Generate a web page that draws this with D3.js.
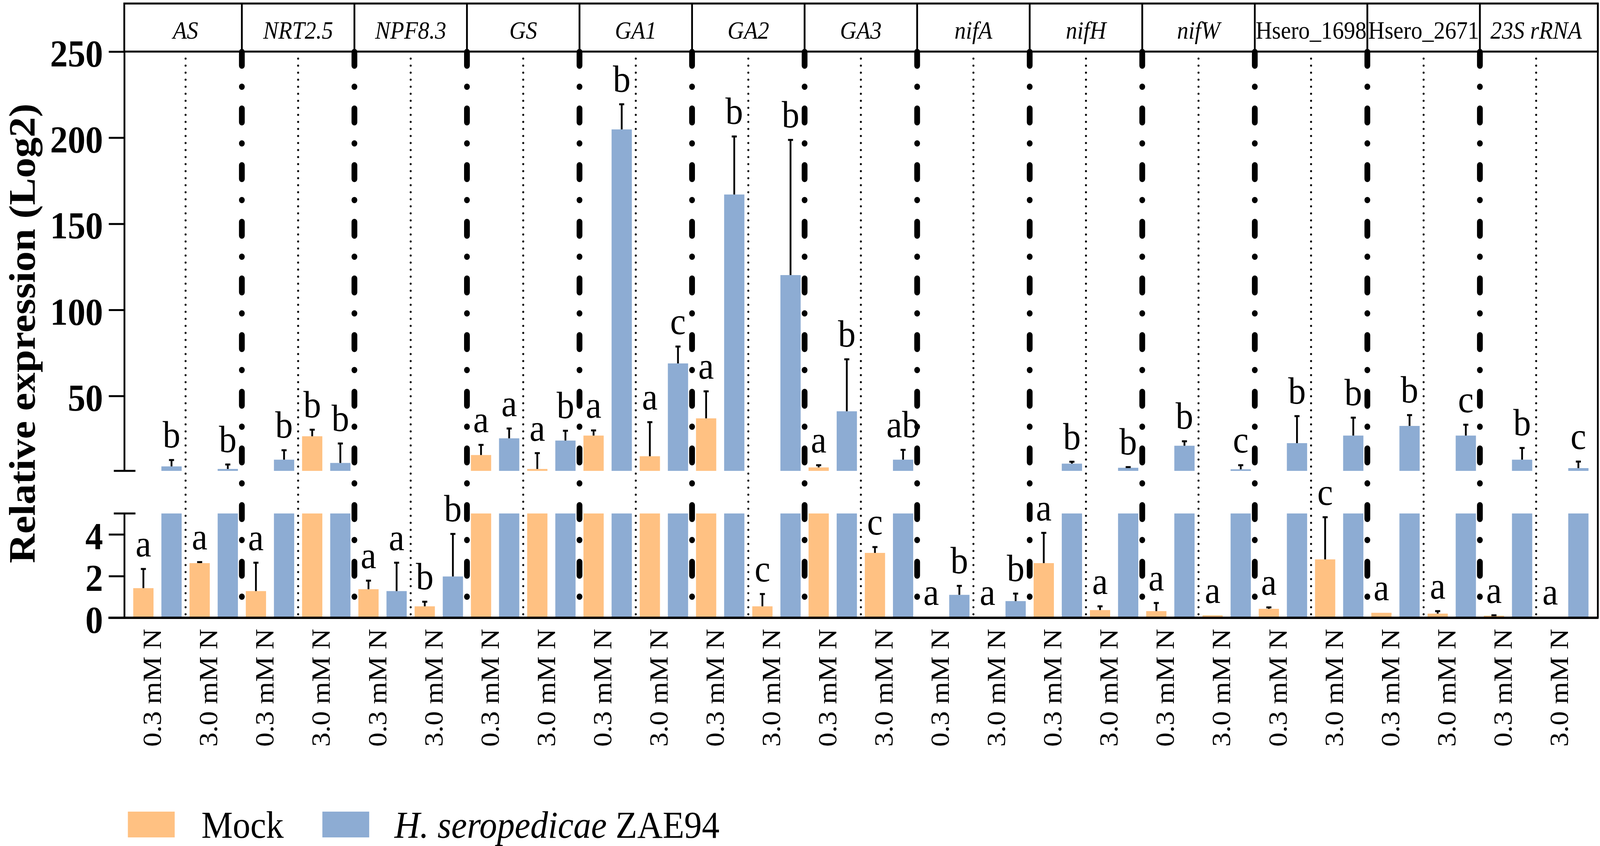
<!DOCTYPE html>
<html>
<head>
<meta charset="utf-8">
<script src="https://cdn.jsdelivr.net/npm/d3@7"></script>
<style>
  html, body { margin: 0; padding: 0; background: #fff; overflow: hidden; }
  svg { display: block; font-family: "Liberation Serif", "Times New Roman", serif; }
</style>
</head>
<body>
<div id="chart"></div>
<script>
// genes, conditions, treatments
const genes = ["AS", "NRT2.5", "NPF8.3", "GS", "GA1", "GA2", "GA3",
  "nifA", "nifH", "nifW", "Hsero_1698", "Hsero_2671", "23S rRNA"];
const conditions = ["0.3 mM N", "3.0 mM N"];
const treatments = ["Mock", "H. seropedicae ZAE94"];

// values per gene: [0.3 mM N, 3.0 mM N]
const mockMean = [1.42, 2.62, 1.28, 26.6, 1.37, 0.55, 15.7, 7.6, 27.0, 15.0, 37.0, 0.55, 8.5, 3.11,
  0.02, 0.02, 2.62, 0.37, 0.32, 0.12, 0.43, 2.80, 0.24, 0.20, 0.10, 0.04];
const mockSD = [0.92, 0.05, 1.36, 3.8, 0.41, 0.22, 5.9, 9.2, 3.0, 19.8, 15.7, 0.59, 1.3, 0.28,
  0, 0, 1.45, 0.18, 0.39, 0, 0.07, 2.02, 0, 0.12, 0.02, 0];
const hsMean = [9.1, 7.6, 13.0, 11.1, 1.28, 1.98, 25.4, 24.1, 204.8, 68.9, 167, 120.2, 41.1, 13.0,
  1.10, 0.80, 10.7, 8.3, 21.1, 7.4, 22.6, 27.0, 32.6, 27.0, 13.0, 8.1];
const hsSD = [3.7, 2.6, 5.5, 11.3, 1.36, 2.04, 5.7, 5.7, 14.6, 9.8, 33.7, 78.5, 30.2, 5.7,
  0.43, 0.36, 1.1, 0.4, 2.6, 2.4, 15.7, 10.4, 6.3, 6.3, 6.8, 3.8];
const mockLetters = ["a", "a", "a", "b", "a", "b", "a", "a", "a", "a", "a", "c", "a", "c",
  "a", "a", "a", "a", "a", "a", "a", "c", "a", "a", "a", "a"];
const hsLetters = ["b", "b", "b", "b", "a", "b", "a", "b", "b", "c", "b", "b", "b", "ab",
  "b", "b", "b", "b", "b", "c", "b", "b", "b", "c", "b", "c"];

const lowTicks = [0, 2, 4];
const upTicks = [50, 100, 150, 200, 250];

const W = 4442, H = 2165;
const colors = { "Mock": "#FFC182", "H. seropedicae ZAE94": "#8DACD3" };

const rows = [];
genes.forEach((g, gi) => conditions.forEach((c, ci) => {
  const i = gi * 2 + ci;
  rows.push({ gene: g, cond: c, treat: treatments[0], mean: mockMean[i], sd: mockSD[i], letter: mockLetters[i] });
  rows.push({ gene: g, cond: c, treat: treatments[1], mean: hsMean[i], sd: hsSD[i], letter: hsLetters[i] });
}));
rows.forEach(d => d.key = `${d.gene}|${d.cond}|${d.treat}`);

// scale the drawing to whatever the window is
const svg = d3.select("#chart").append("svg")
  .attr("viewBox", `0 0 ${W} ${H}`)
  .attr("preserveAspectRatio", "none")
  .style("width", "100vw")
  .style("height", "100vh");

const left = 359, right = 4421, axisX = 345, frameR = 4436;
const x = d3.scaleBand().domain(rows.map(d => d.key))
  .range([left, right]).paddingInner(0.28).paddingOuter(0.14);
const gx = d3.scaleBand().domain(genes).range([left, right]);
const px = d3.scaleBand().domain(genes.flatMap(g => conditions.map(c => `${g}|${c}`)))
  .range([left, right]);

const yLow = d3.scaleLinear().domain([0, 5]).range([1581, 1314]);
const yUp = d3.scaleLinear().domain([6.5, 250]).range([1205, 132]);

// header boxes
const head = svg.append("g");
head.append("rect")
  .attr("x", axisX).attr("y", 9)
  .attr("width", frameR - axisX).attr("height", 123)
  .attr("fill", "none").attr("stroke", "black").attr("stroke-width", 5);
head.selectAll("line.div")
  .data(genes.slice(1))
  .join("line")
    .attr("x1", d => gx(d)).attr("x2", d => gx(d))
    .attr("y1", 9).attr("y2", 132)
    .attr("stroke", "black").attr("stroke-width", 5);
head.selectAll("text")
  .data(genes)
  .join("text")
    .attr("x", d => gx(d) + gx.bandwidth() / 2)
    .attr("y", 99)
    .attr("text-anchor", "middle")
    .attr("font-size", 63)
    .attr("font-style", d => d.startsWith("Hsero") ? "normal" : "italic")
    .text(d => d);

// bars, lower segment
const bars = svg.append("g");
bars.selectAll("rect.low")
  .data(rows)
  .join("rect")
    .attr("class", "low")
    .attr("x", d => x(d.key))
    .attr("width", x.bandwidth())
    .attr("y", d => yLow(Math.min(d.mean, 5)))
    .attr("height", d => yLow(0) - yLow(Math.min(d.mean, 5)))
    .attr("fill", d => colors[d.treat]);

// bars, upper segment
bars.selectAll("rect.up")
  .data(rows.filter(d => d.mean > yUp.domain()[0]))
  .join("rect")
    .attr("class", "up")
    .attr("x", d => x(d.key))
    .attr("width", x.bandwidth())
    .attr("y", d => yUp(d.mean))
    .attr("height", d => yUp.range()[0] - yUp(d.mean))
    .attr("fill", d => colors[d.treat]);

const yOf = v => v > 5 ? yUp(v) : yLow(v);

// error bars
const err = svg.append("g").attr("stroke", "black").attr("stroke-width", 5);
const withErr = rows.filter(d => d.sd > 0);
err.selectAll("line.v")
  .data(withErr)
  .join("line")
    .attr("x1", d => x(d.key) + x.bandwidth() / 2)
    .attr("x2", d => x(d.key) + x.bandwidth() / 2)
    .attr("y1", d => yOf(d.mean))
    .attr("y2", d => yOf(d.mean + d.sd));
err.selectAll("line.c")
  .data(withErr)
  .join("line")
    .attr("x1", d => x(d.key) + x.bandwidth() / 2 - 7)
    .attr("x2", d => x(d.key) + x.bandwidth() / 2 + 7)
    .attr("y1", d => yOf(d.mean + d.sd))
    .attr("y2", d => yOf(d.mean + d.sd));

// separators: dotted between conditions, dash-dot between genes
const sep = svg.append("g").attr("stroke", "black").attr("fill", "none");
sep.selectAll("line.dot")
  .data(genes)
  .join("line")
    .attr("x1", d => gx(d) + gx.bandwidth() / 2)
    .attr("x2", d => gx(d) + gx.bandwidth() / 2)
    .attr("y1", 150).attr("y2", 1581)
    .attr("stroke-width", 5.5)
    .attr("stroke-linecap", "round")
    .attr("stroke-dasharray", "0 18");
sep.selectAll("line.dd")
  .data(genes.slice(1))
  .join("line")
    .attr("x1", d => gx(d)).attr("x2", d => gx(d))
    .attr("y1", 133).attr("y2", 1581)
    .attr("stroke-width", 16)
    .attr("stroke-linecap", "round")
    .attr("stroke-dasharray", "35 54 0 56");

// significance letters
svg.append("g")
  .selectAll("text")
  .data(rows)
  .join("text")
    .attr("x", d => x(d.key) + x.bandwidth() / 2)
    .attr("y", d => yOf(d.mean + d.sd) - 32)
    .attr("text-anchor", "middle")
    .attr("font-size", 98)
    .text(d => d.letter);

// y axes
const fmt = d3.format("d");
const yAxisUp = d3.axisLeft(yUp).tickValues(upTicks).tickFormat(fmt)
  .tickSize(43).tickSizeOuter(0).tickPadding(16);
const yAxisLow = d3.axisLeft(yLow).tickValues(lowTicks).tickFormat(fmt)
  .tickSize(43).tickSizeOuter(0).tickPadding(16);
[yAxisUp, yAxisLow].forEach(ax => {
  svg.append("g")
    .attr("transform", `translate(${axisX},0)`)
    .call(ax)
    .call(g => g.selectAll("path, line").attr("stroke-width", 5).attr("stroke", "black"))
    .call(g => g.selectAll("text")
      .attr("font-size", 98).attr("font-weight", "bold")
      .attr("font-family", "Liberation Serif, Times New Roman, serif")
      .attr("fill", "black").attr("dy", "0.38em"));
});

// break marks
svg.append("g")
  .selectAll("line")
  .data([yUp.range()[0], yLow.range()[1]])
  .join("line")
    .attr("x1", 316).attr("x2", 376)
    .attr("y1", d => d).attr("y2", d => d)
    .attr("stroke", "black").attr("stroke-width", 5);

// x baseline and right frame
svg.append("line")
  .attr("x1", 301).attr("x2", frameR + 2)
  .attr("y1", 1581).attr("y2", 1581)
  .attr("stroke", "black").attr("stroke-width", 6);
svg.append("line")
  .attr("x1", frameR).attr("x2", frameR)
  .attr("y1", 9).attr("y2", 1581)
  .attr("stroke", "black").attr("stroke-width", 5);

// condition labels
svg.append("g")
  .selectAll("text")
  .data(px.domain())
  .join("text")
    .attr("transform", d => `translate(${px(d) + px.bandwidth() / 2 + 10},1609) rotate(-90)`)
    .attr("text-anchor", "end")
    .attr("font-size", 73)
    .text(d => d.split("|")[1]);

// y title
svg.append("text")
  .attr("transform", "translate(96,853) rotate(-90)")
  .attr("text-anchor", "middle")
  .attr("font-size", 104)
  .attr("font-weight", "bold")
  .text("Relative expression (Log2)");

// legend
const legend = svg.append("g");
const legendX = [355, 895];
legend.selectAll("rect")
  .data(treatments)
  .join("rect")
    .attr("x", (d, i) => legendX[i])
    .attr("y", 2077)
    .attr("width", 130).attr("height", 66)
    .attr("fill", d => colors[d]);
legend.append("text")
  .attr("x", 559).attr("y", 2144)
  .attr("font-size", 98)
  .text(treatments[0]);
const lt = legend.append("text")
  .attr("x", 1095).attr("y", 2144)
  .attr("font-size", 98);
lt.append("tspan").attr("font-style", "italic").text("H. seropedicae");
lt.append("tspan").text(" ZAE94");
</script>
</body>
</html>
